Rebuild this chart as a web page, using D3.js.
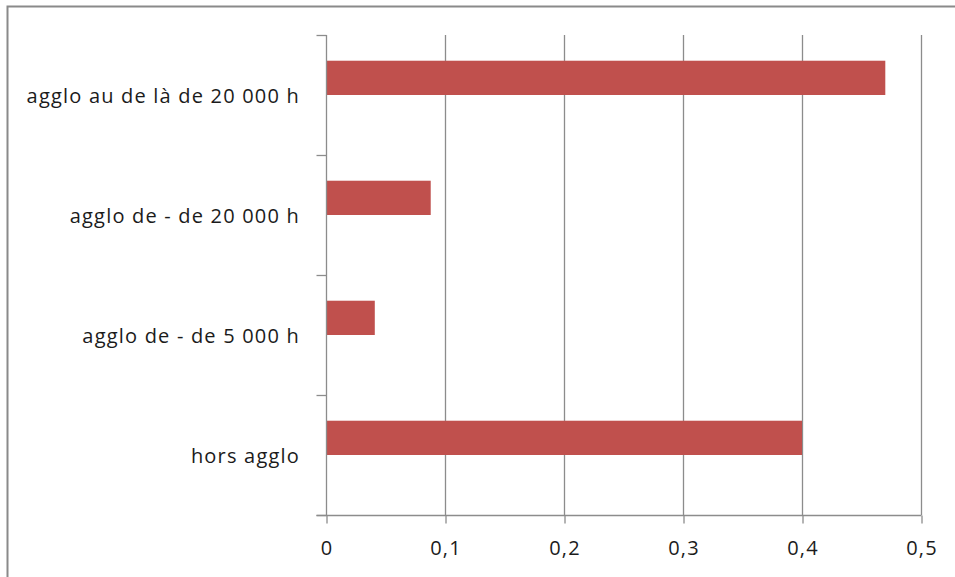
<!DOCTYPE html>
<html>
<head>
<meta charset="utf-8">
<script src="https://cdn.jsdelivr.net/npm/d3@7/dist/d3.min.js"></script>
<style>
  html, body { margin: 0; padding: 0; background: #fff; }
  svg { display: block; }
  text { font-family: "Open Sans", "Lato", sans-serif; fill: #1b1b1b; }
</style>
</head>
<body>
<svg id="chart" width="955" height="577"></svg>
<script>
// Categories from top to bottom, with their shares
const categories = [
  "agglo au de là de 20 000 h",
  "agglo de - de 20 000 h",
  "agglo de - de 5 000 h",
  "hors agglo"
];
const values = [0.47, 0.088, 0.041, 0.40];
const xTicks = [0, 0.1, 0.2, 0.3, 0.4, 0.5];
const xTickLabels = ["0", "0,1", "0,2", "0,3", "0,4", "0,5"];

const svg = d3.select("#chart");
const W = 955, H = 577;
const plot = { left: 326, right: 921, top: 35, bottom: 515 };
const labelFont = { size: "20px", spacing: "1.2px" };

// Outer frame
svg.append("path")
  .attr("d", `M7.5,${H} V6.5 H${W}`)
  .attr("fill", "none")
  .attr("stroke", "#8a8a8a")
  .attr("stroke-width", 2);

const x = d3.scaleLinear().domain([0, 0.5]).range([plot.left, plot.right]);
const y = d3.scaleBand().domain(categories).range([plot.top, plot.bottom]).padding(0);
// Each category holds two slots (gap width 150%); the bar sits in the upper slot
const slot = d3.scaleBand().domain([0, 1]).range([0, y.bandwidth()])
  .paddingInner(0).paddingOuter(0.75);

// Vertical gridlines
svg.append("g")
  .selectAll("line")
  .data(xTicks.slice(1))
  .join("line")
  .attr("x1", d => Math.round(x(d)) + 0.5)
  .attr("x2", d => Math.round(x(d)) + 0.5)
  .attr("y1", plot.top)
  .attr("y2", plot.bottom)
  .attr("stroke", "#8c8c8c")
  .attr("stroke-width", 1.3);

// Bars
svg.append("g")
  .selectAll("rect")
  .data(categories)
  .join("rect")
  .attr("x", x(0))
  .attr("y", (c) => y(c) + slot(0))
  .attr("width", (c, i) => x(values[i]) - x(0))
  .attr("height", slot.bandwidth())
  .attr("fill", "#C0504D");

// Category axis
const yAxis = d3.axisLeft(y).tickSize(0).tickFormat(() => "");
const gy = svg.append("g").attr("transform", `translate(${plot.left + 0.5},0)`).call(yAxis);
gy.select(".domain").attr("stroke", "#8c8c8c").attr("stroke-width", 1.3)
  .attr("d", `M0,${plot.top}V${plot.bottom}`);
// Tick marks between categories
const boundaries = categories.map(c => y(c)).concat([plot.bottom]);
gy.selectAll(".bound")
  .data(boundaries)
  .join("line")
  .attr("class", "bound")
  .attr("x1", -10).attr("x2", 0)
  .attr("y1", d => d + 0.5).attr("y2", d => d + 0.5)
  .attr("stroke", "#8c8c8c").attr("stroke-width", 1.3);
gy.selectAll(".cat")
  .data(categories)
  .join("text")
  .attr("class", "cat")
  .attr("x", 300 - plot.left - 0.5)
  .attr("y", c => y(c) + y.bandwidth() / 2 + 1)
  .attr("dy", "0.35em")
  .attr("text-anchor", "end")
  .style("font-size", labelFont.size)
  .style("letter-spacing", labelFont.spacing)
  .text(c => c);

// Value axis
const xAxis = d3.axisBottom(x).tickValues(xTicks).tickSize(8)
  .tickFormat((d, i) => xTickLabels[i]);
const gx = svg.append("g").attr("transform", `translate(0.5,${plot.bottom + 0.5})`).call(xAxis);
gx.select(".domain").attr("stroke", "#8c8c8c").attr("stroke-width", 1.3)
  .attr("d", `M${plot.left - 10},0H${plot.right}`);
gx.selectAll(".tick line").attr("stroke", "#8c8c8c").attr("stroke-width", 1.3);
gx.selectAll(".tick text")
  .attr("y", 32)
  .attr("dy", "0.35em")
  .style("font-size", labelFont.size)
  .style("letter-spacing", labelFont.spacing)
  .style("font-family", "'Open Sans', Lato, sans-serif")
  .attr("fill", "#1b1b1b");
</script>
</body>
</html>
